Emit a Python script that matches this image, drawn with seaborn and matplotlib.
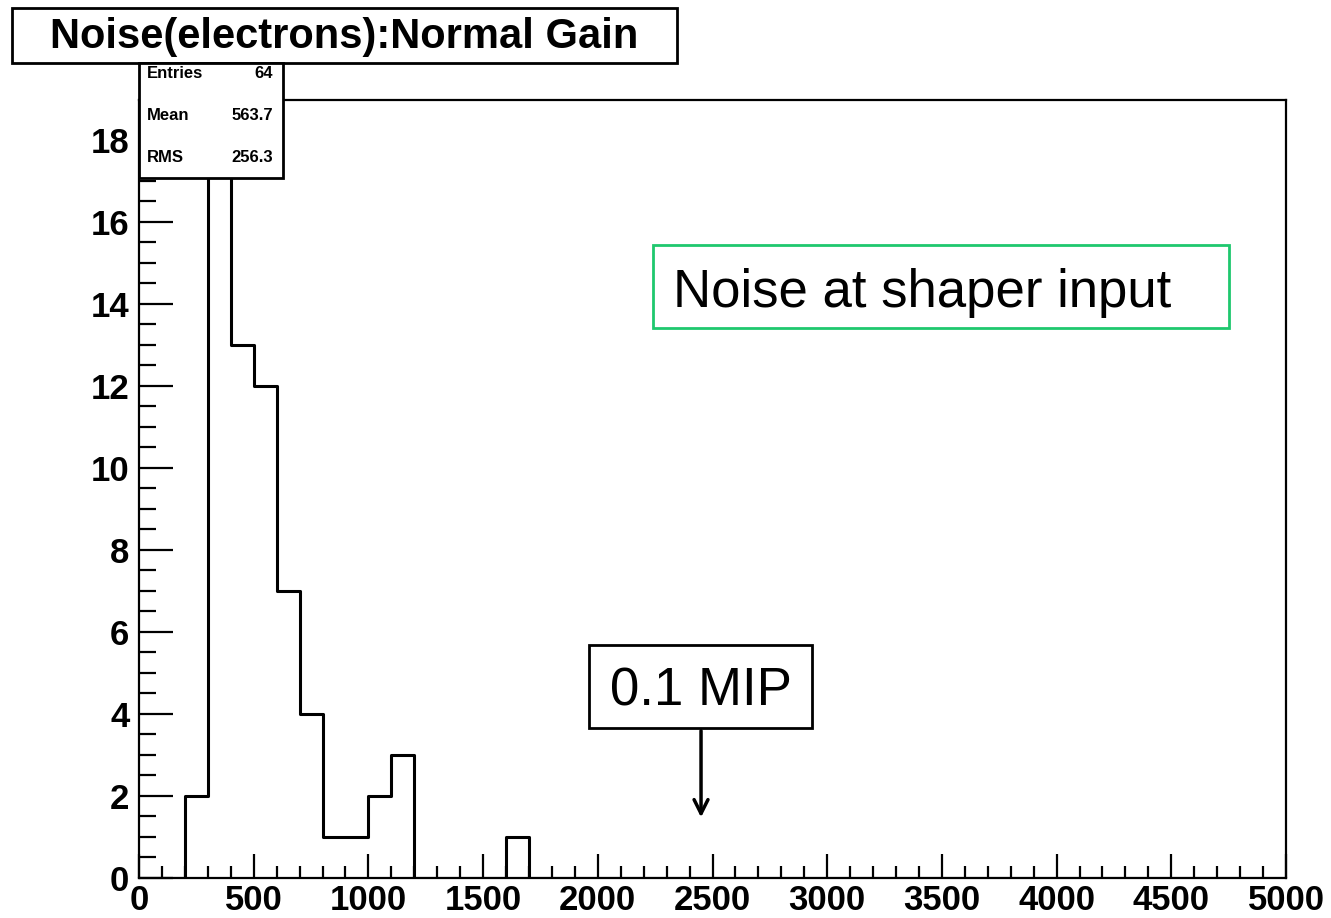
import numpy as np
import pandas as pd
import matplotlib
matplotlib.use("Agg")
import matplotlib.pyplot as plt
from matplotlib.patches import Rectangle
from matplotlib.ticker import MultipleLocator
import seaborn as sns

# ---- data ----
bin_centers = [250, 350, 450, 550, 650, 750, 850, 950, 1050, 1150, 1650]
counts = [2, 18, 13, 12, 7, 4, 1, 1, 2, 3, 1]
x_ticks = [0, 500, 1000, 1500, 2000, 2500, 3000, 3500, 4000, 4500, 5000]
y_ticks = [0, 2, 4, 6, 8, 10, 12, 14, 16, 18]
title = "Noise(electrons):Normal Gain"
stat_names = ["Entries", "Mean", "RMS"]
stat_values = ["64", "563.7", "256.3"]
note_text = "Noise at shaper input"
mip_text = "0.1 MIP"
mip_position = 2450

df = pd.DataFrame({"noise": bin_centers, "count": counts})

sns.set_style("ticks")
plt.rcParams["font.family"] = ["Liberation Sans", "DejaVu Sans"]
plt.rcParams["text.color"] = "black"
plt.rcParams["xtick.color"] = "black"
plt.rcParams["ytick.color"] = "black"
plt.rcParams["axes.labelcolor"] = "black"

fig = plt.figure(figsize=(13.31, 9.18), dpi=100)
ax = fig.add_axes([139 / 1331, 1 - 878 / 918, 1147 / 1331, 778 / 918])

sns.histplot(data=df, x="noise", weights="count", binwidth=100, binrange=(0, 5000),
             element="step", fill=False, color="black", linewidth=2.2, ax=ax)

ax.set_xlim(0, 5000)
ax.set_ylim(0, 18.97)
ax.set_xlabel("")
ax.set_ylabel("")
for s in ax.spines.values():
    s.set_linewidth(1.6)
    s.set_color("black")
    s.set_visible(True)

ax.set_xticks(x_ticks)
ax.set_xticklabels([str(v) for v in x_ticks])
ax.set_yticks(y_ticks)
ax.set_yticklabels([str(v) for v in y_ticks])
ax.xaxis.set_minor_locator(MultipleLocator(100))
ax.yaxis.set_minor_locator(MultipleLocator(0.5))
ax.tick_params(axis="x", which="major", direction="in", length=17, width=1.6, pad=4,
               labelsize=25, top=False, colors="black")
ax.tick_params(axis="x", which="minor", direction="in", length=8.6, width=1.6, top=False,
               colors="black")
ax.tick_params(axis="y", which="major", direction="in", length=24.5, width=1.6, pad=7,
               labelsize=25, right=False, colors="black")
ax.tick_params(axis="y", which="minor", direction="in", length=12.2, width=1.6, right=False,
               colors="black")
for lab in ax.get_xticklabels() + ax.get_yticklabels():
    lab.set_fontweight("bold")
    lab.set_color("black")

# Green note box
ax.add_patch(Rectangle((2240.6, 13.41), 2510.9, 2.03, fill=False, edgecolor="#1ec86e",
                       linewidth=2, zorder=5))
ax.text(2328, 14.27, note_text, fontsize=38, ha="left", va="center", color="black",
        zorder=6)

# MIP box + arrow
ax.add_patch(Rectangle((1961.6, 3.66), 972.1, 2.02, fill=True, facecolor="white",
                       edgecolor="black", linewidth=2, zorder=5))
ax.text(2447.7, 4.55, mip_text, fontsize=38, ha="center", va="center", color="black",
        zorder=6)
ax.annotate("", xy=(mip_position, 1.41), xytext=(mip_position, 3.66),
            arrowprops=dict(arrowstyle="->,head_length=1.0,head_width=0.5",
                            color="black", lw=2.5), zorder=6)

# Title box (figure coords)
fig.patches.append(Rectangle((12 / 1331, 1 - 63 / 918), 665 / 1331, 55 / 918,
                             transform=fig.transFigure, fill=True, facecolor="white",
                             edgecolor="black", linewidth=2, zorder=10))
fig.text(344.5 / 1331, 1 - 37 / 918, title, fontsize=30, fontweight="bold",
         ha="center", va="center", color="black", zorder=11)

# Stats box (figure coords)
fig.patches.append(Rectangle((139 / 1331, 1 - 178 / 918), 144 / 1331, 115 / 918,
                             transform=fig.transFigure, fill=True, facecolor="white",
                             edgecolor="black", linewidth=2, zorder=10))
for i, (n, v) in enumerate(zip(stat_names, stat_values)):
    yy = 1 - (74 + 41.5 * i) / 918
    fig.text(147 / 1331, yy, n, fontsize=12, fontweight="bold", ha="left",
             va="center", color="black", zorder=11)
    fig.text(273 / 1331, yy, v, fontsize=12, fontweight="bold", ha="right",
             va="center", color="black", zorder=11)

fig.savefig("out.png", dpi=100, facecolor="white")
